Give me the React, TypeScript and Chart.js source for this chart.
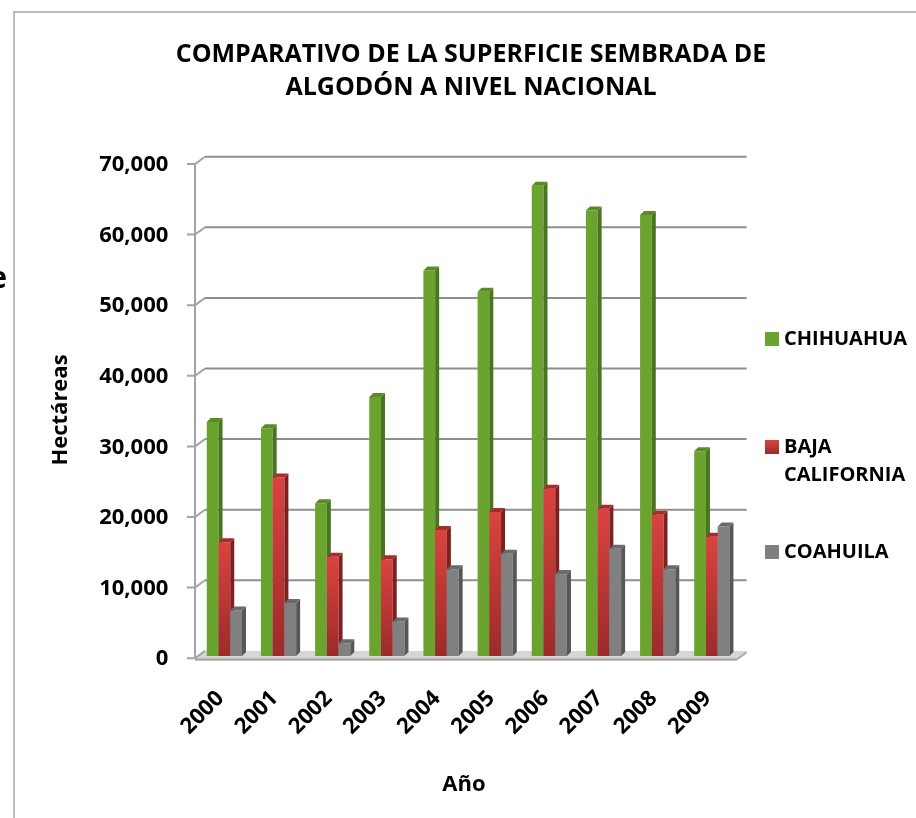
import React, { useEffect, useRef } from "react";
import { Chart, registerables } from "chart.js";

Chart.register(...registerables);

// ---------- data ----------
const YEARS = ["2000", "2001", "2002", "2003", "2004", "2005", "2006", "2007", "2008", "2009"];
const CHIHUAHUA = [33150, 32250, 21650, 36700, 54600, 51600, 66600, 63100, 62450, 29000];
const BAJA_CALIFORNIA = [16100, 25300, 14050, 13700, 17850, 20400, 23700, 20850, 20000, 16900];
const COAHUILA = [6450, 7500, 1800, 4900, 12300, 14500, 11600, 15200, 12300, 18350];
const SERIES_LABELS = [["CHIHUAHUA"], ["BAJA", "CALIFORNIA"], ["COAHUILA"]];
const Y_TICKS = [0, 10000, 20000, 30000, 40000, 50000, 60000, 70000];
const TITLE_LINES = ["COMPARATIVO DE LA SUPERFICIE SEMBRADA DE", "ALGODÓN A NIVEL NACIONAL"];
const Y_TITLE = "Hectáreas";
const X_TITLE = "Año";
const STRAY_TEXT = "e";

// ---------- styles ----------
const FONT = '"Open Sans", Lato, "DejaVu Sans", sans-serif';
const W = 916;
const H = 818;
const PLOT = { left: 197.3, right: 738.9, top: 161.8, bottom: 656 };
const BACK = { dx: 7.7, dy: -5.1 };
const FRONT = { dx: -2.3, dy: 2.2 };
const BAR_DEPTH = { dx: 4, dy: -4 };
const COLORS = [
  { front: "#6ba32f", side: "#4a7520", top: "#5a8c26", top2: "#6ba32f", bottom: "#6ba32f" },
  { front: "#c93a37", side: "#7e2020", top: "#a82c2a", top2: "#da433f", bottom: "#9b2b2b" },
  { front: "#808080", side: "#575757", top: "#6a6a6a", top2: "#808080", bottom: "#808080" },
];
const GRID_COLOR = "#8e8e8e";
const AXIS_COLOR = "#a3a3a3";

const fmt = (v: number) => v.toLocaleString("en-US");

function redGradient(ctx: CanvasRenderingContext2D, top: number, bottom: number) {
  const g = ctx.createLinearGradient(0, top, 0, bottom);
  g.addColorStop(0, COLORS[1].top2);
  g.addColorStop(1, COLORS[1].bottom);
  return g;
}

const excel3d = {
  id: "excel3d",
  beforeDraw(chart: any) {
    const { ctx } = chart;
    ctx.save();
    ctx.fillStyle = "#ffffff";
    ctx.fillRect(0, 0, W, H);
    // outer chart border (left + top visible)
    ctx.strokeStyle = "#bdbdbd";
    ctx.lineWidth = 2;
    ctx.beginPath();
    ctx.moveTo(W + 5, 12);
    ctx.lineTo(14, 12);
    ctx.lineTo(14, H + 5);
    ctx.stroke();
    // stray clipped glyph at far left
    ctx.fillStyle = "#000";
    ctx.font = `bold 30px ${FONT}`;
    ctx.textAlign = "right";
    ctx.textBaseline = "middle";
    ctx.fillText(STRAY_TEXT, 7, 279);
    ctx.restore();
  },
  beforeDatasetsDraw(chart: any) {
    const { ctx, chartArea } = chart;
    const ys = chart.scales.y;
    const { left, right } = chartArea;
    ctx.save();
    // floor
    const y0 = ys.getPixelForValue(0);
    const fl = left + FRONT.dx;
    const fr = right + FRONT.dx;
    const bl = left + BACK.dx;
    const br = right + BACK.dx;
    const yf = y0 + FRONT.dy;
    const yb = y0 + BACK.dy;
    ctx.fillStyle = "#d6d6d6";
    ctx.beginPath();
    ctx.moveTo(fl, yf);
    ctx.lineTo(fr, yf);
    ctx.lineTo(br, yb);
    ctx.lineTo(bl, yb);
    ctx.closePath();
    ctx.fill();
    ctx.fillStyle = "#a9a9a9";
    ctx.beginPath();
    ctx.moveTo(fl, yf);
    ctx.lineTo(fr, yf);
    ctx.lineTo(br, yb);
    ctx.lineTo(br, yb + 2.5);
    ctx.lineTo(fr, yf + 2.5);
    ctx.lineTo(fl, yf + 2.5);
    ctx.closePath();
    ctx.fill();
    // back wall gridlines
    ctx.strokeStyle = GRID_COLOR;
    ctx.lineWidth = 2;
    for (const v of Y_TICKS) {
      const y = ys.getPixelForValue(v);
      if (v !== 0) {
        ctx.beginPath();
        ctx.moveTo(bl, y + BACK.dy);
        ctx.lineTo(br, y + BACK.dy);
        ctx.stroke();
      }
    }
    // front axis, ticks and connectors
    ctx.strokeStyle = AXIS_COLOR;
    ctx.beginPath();
    ctx.moveTo(fl, ys.getPixelForValue(Y_TICKS[Y_TICKS.length - 1]) + FRONT.dy);
    ctx.lineTo(fl, y0 + FRONT.dy);
    ctx.stroke();
    for (const v of Y_TICKS) {
      const y = ys.getPixelForValue(v);
      ctx.beginPath();
      ctx.moveTo(fl - 8, y + FRONT.dy);
      ctx.lineTo(fl, y + FRONT.dy);
      ctx.lineTo(bl, y + BACK.dy);
      ctx.stroke();
    }
    // bars, drawn category by category so that 3D faces overlap correctly
    const metas = [0, 1, 2].map((i) => chart.getDatasetMeta(i));
    const n = YEARS.length;
    for (let i = 0; i < n; i++) {
      for (let d = 0; d < metas.length; d++) {
        const el = metas[d].data[i];
        if (!el) continue;
        el.draw(ctx, chartArea);
        const { x, y, base, width } = el.getProps(["x", "y", "base", "width"], true);
        const xl = x - width / 2;
        const xr = x + width / 2;
        const c = COLORS[d];
        // side face
        ctx.fillStyle = c.side;
        ctx.beginPath();
        ctx.moveTo(xr, y);
        ctx.lineTo(xr + BAR_DEPTH.dx, y + BAR_DEPTH.dy);
        ctx.lineTo(xr + BAR_DEPTH.dx, base + BAR_DEPTH.dy);
        ctx.lineTo(xr, base);
        ctx.closePath();
        ctx.fill();
        // top face
        ctx.fillStyle = c.top;
        ctx.beginPath();
        ctx.moveTo(xl, y);
        ctx.lineTo(xl + BAR_DEPTH.dx, y + BAR_DEPTH.dy);
        ctx.lineTo(xr + BAR_DEPTH.dx, y + BAR_DEPTH.dy);
        ctx.lineTo(xr, y);
        ctx.closePath();
        ctx.fill();
      }
    }
    ctx.restore();
    return false;
  },
  afterDraw(chart: any) {
    const { ctx, chartArea } = chart;
    const ys = chart.scales.y;
    const xs = chart.scales.x;
    ctx.save();
    ctx.fillStyle = "#000";
    // title
    ctx.font = `bold 25px ${FONT}`;
    ctx.textAlign = "center";
    ctx.textBaseline = "middle";
    TITLE_LINES.forEach((t, i) => ctx.fillText(t, 471, 55 + i * 33));
    // y tick labels
    ctx.font = `bold 22px ${FONT}`;
    ctx.textAlign = "right";
    for (const v of Y_TICKS) {
      ctx.fillText(fmt(v), chartArea.left - 29, ys.getPixelForValue(v) + FRONT.dy + 1);
    }
    // x tick labels rotated
    ctx.textAlign = "right";
    YEARS.forEach((yr, i) => {
      const x = xs.getPixelForValue(i) - 4;
      ctx.save();
      ctx.translate(x, 695);
      ctx.rotate(-Math.PI / 4);
      ctx.fillText(yr, 0, 0);
      ctx.restore();
    });
    // axis titles
    ctx.font = `bold 22px ${FONT}`;
    ctx.textAlign = "center";
    ctx.fillText(X_TITLE, 464, 785);
    ctx.save();
    ctx.translate(61, 410);
    ctx.rotate(-Math.PI / 2);
    ctx.fillText(Y_TITLE, 0, 0);
    ctx.restore();
    // legend
    const legendY = [339, 447, 552];
    ctx.font = `bold 20px ${FONT}`;
    ctx.textAlign = "left";
    SERIES_LABELS.forEach((lines, d) => {
      const cy = legendY[d];
      ctx.fillStyle = d === 1 ? redGradient(ctx, cy - 7, cy + 7) : COLORS[d].front;
      ctx.fillRect(765, cy - 7, 14, 14);
      ctx.fillStyle = "#000";
      lines.forEach((ln, k) => ctx.fillText(ln, 784, cy + k * 28));
    });
    ctx.restore();
  },
};

export default function App() {
  const ref = useRef<HTMLCanvasElement>(null);
  useEffect(() => {
    const canvas = ref.current;
    if (!canvas) return;
    const chart = new Chart(canvas, {
      type: "bar",
      data: {
        labels: YEARS,
        datasets: [
          { label: SERIES_LABELS[0].join(" "), data: CHIHUAHUA, backgroundColor: COLORS[0].front },
          {
            label: SERIES_LABELS[1].join(" "),
            data: BAJA_CALIFORNIA,
            backgroundColor: (c: any) => {
              const ch = c.chart;
              if (!ch.chartArea || c.raw == null) return COLORS[1].front;
              const ys = ch.scales.y;
              return redGradient(ch.ctx, ys.getPixelForValue(c.raw), ys.getPixelForValue(0));
            },
          },
          { label: SERIES_LABELS[2].join(" "), data: COAHUILA, backgroundColor: COLORS[2].front },
        ],
      },
      options: {
        responsive: false,
        animation: false,
        devicePixelRatio: 1,
        layout: {
          padding: { left: PLOT.left, right: W - PLOT.right, top: PLOT.top, bottom: H - PLOT.bottom },
        },
        datasets: { bar: { barPercentage: 1, categoryPercentage: 0.65, borderWidth: 0 } },
        scales: {
          x: { display: false },
          y: { display: false, min: 0, max: 70000 },
        },
        plugins: { legend: { display: false }, title: { display: false }, tooltip: { enabled: false } },
      },
      plugins: [excel3d],
    });
    return () => chart.destroy();
  }, []);
  return (
    <div style={{ position: "fixed", left: 0, top: 0, width: W, height: H, background: "#fff" }}>
      <canvas ref={ref} width={W} height={H} style={{ width: W, height: H, display: "block" }} />
    </div>
  );
}
